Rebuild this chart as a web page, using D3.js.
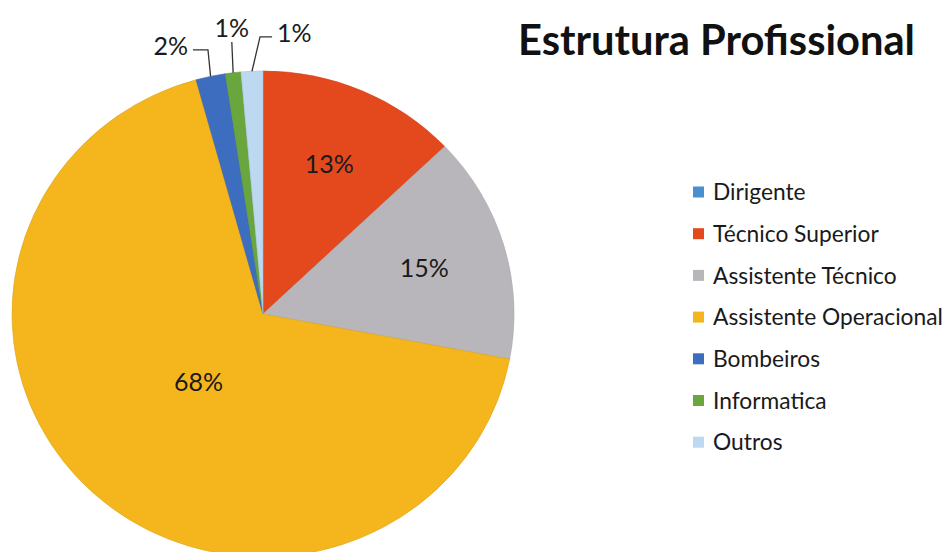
<!DOCTYPE html>
<meta charset="utf-8">
<style>
    body {
        margin: 0;
        background: #fff;
    }
    text {
        font-family: Lato, "Open Sans", sans-serif;
        fill: #1a1a1a;
    }
</style>
<svg width="947" height="552"></svg>
<script src="https://cdn.jsdelivr.net/npm/d3@7"></script>
<script>
    var categories = ["Dirigente", "Técnico Superior", "Assistente Técnico", "Assistente Operacional",
        "Bombeiros", "Informatica", "Outros"];
    var values = [0, 12.9, 15.1, 67.8, 1.9, 1.0, 1.4];
    var colors = ["#4a8fd0", "#e4491e", "#b8b6ba", "#f4b61c", "#3c6dbf", "#6aa63e", "#bcd9f1"];
    var title = "Estrutura Profissional";

    var svg = d3.select("svg"),
        cx = 263, cy = 314,
        radius = 251,
        ky = 243 / 251;

    var total = d3.sum(values);
    var data = categories.map(function (c, i) {
        return {name: c, value: values[i], color: colors[i]};
    });

    var pie = d3.pie()
        .sort(null)
        .value(function (d) { return d.value; });

    var arcs = pie(data);

    var arc = d3.arc()
        .innerRadius(0)
        .outerRadius(radius);

    var pieG = svg.append("g")
        .attr("transform", "translate(" + cx + "," + cy + ") scale(1," + ky + ")");

    pieG.selectAll("path")
        .data(arcs.filter(function (d) { return d.value > 0; }))
        .enter().append("path")
        .attr("d", arc)
        .style("fill", function (d) { return d.data.color; })
        .style("stroke", function (d) { return d3.rgb(d.data.color).darker(0.3); })
        .style("stroke-width", 0.6);

    // point on the (squashed) pie for an angle and a radius
    function pt(angle, r) {
        return [cx + r * Math.sin(angle), cy - r * Math.cos(angle) * ky];
    }
    function mid(d) { return (d.startAngle + d.endAngle) / 2; }
    function pct(d) { return Math.round(d.value / total * 100) + "%"; }

    var labels = svg.append("g");

    // inside labels
    arcs.filter(function (d) { return d.value / total >= 0.05; }).forEach(function (d) {
        var share = d.value / total;
        var p = pt(mid(d), radius * (share > 0.5 ? 0.38 : 0.67));
        labels.append("text")
            .attr("x", p[0])
            .attr("y", p[1])
            .attr("dy", "0.35em")
            .attr("text-anchor", "middle")
            .style("font-size", "25px")
            .text(pct(d));
    });

    // outside labels, spread around their mean angle
    var small = arcs.filter(function (d) { return d.value > 0 && d.value / total < 0.05; });
    var meanA = d3.mean(small, mid) + Math.PI / 180,
        sep = 12.3 * Math.PI / 180,
        labelR = 292;

    small.forEach(function (d, i) {
        var a = meanA + (i - (small.length - 1) / 2) * sep;
        var lp = pt(a, labelR);
        if (i === 1) lp[1] -= 5;
        var t = labels.append("text")
            .attr("x", lp[0])
            .attr("y", lp[1])
            .attr("dy", "0.35em")
            .attr("text-anchor", "middle")
            .style("font-size", "25px")
            .text(pct(d));
        var half = t.node().getComputedTextLength() / 2;

        var rim = pt(mid(d), radius);
        var pts;
        if (Math.abs(lp[0] - rim[0]) < half) {
            pts = [[lp[0], lp[1] + 14], rim];
        } else {
            var ey = lp[1] + 4;
            var side = lp[0] < rim[0] ? lp[0] + half + 5 : lp[0] - half - 5;
            var ex = rim[0] + (lp[0] < rim[0] ? 0.15 : 0.4) * (side - rim[0]);
            pts = [[side, ey], [ex, ey], rim];
        }
        labels.append("path")
            .attr("d", d3.line()(pts))
            .style("fill", "none")
            .style("stroke", "#333")
            .style("stroke-width", 1.3);
    });

    // title, fitted to its width in the picture
    var tt = svg.append("text")
        .attr("x", 518)
        .attr("y", 55)
        .style("font-size", "100px")
        .style("font-weight", "bold")
        .style("fill", "#111")
        .text(title);
    var tw = tt.node().getComputedTextLength();
    tt.style("font-size", (100 * 397 / tw) + "px");

    // legend
    var legend = svg.append("g")
        .attr("transform", "translate(693,192)");

    var item = legend.selectAll("g")
        .data(data)
        .enter().append("g")
        .attr("transform", function (d, i) { return "translate(0," + (i * 41.7) + ")"; });

    item.append("rect")
        .attr("x", 0)
        .attr("y", -5.5)
        .attr("width", 11)
        .attr("height", 11)
        .style("fill", function (d) { return d.color; });

    var lt = item.append("text")
        .attr("x", 20)
        .attr("dy", "0.36em")
        .style("font-size", "100px")
        .text(function (d) { return d.name; });

    var longest = d3.max(lt.nodes(), function (n) { return n.getComputedTextLength(); });
    lt.style("font-size", (100 * 230 / longest) + "px");
</script>
